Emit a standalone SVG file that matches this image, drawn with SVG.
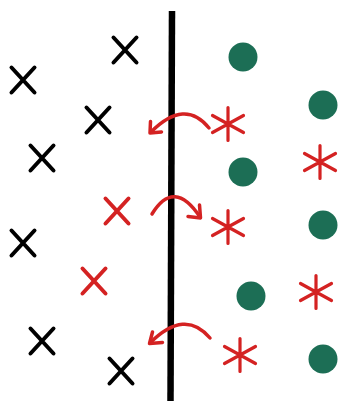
<svg xmlns="http://www.w3.org/2000/svg" xmlns:xlink="http://www.w3.org/1999/xlink" width="339" height="407" viewBox="0 0 339 407">
<style>
.xb{fill:none;stroke:#000;stroke-width:4;stroke-linecap:round}
.xr{fill:none;stroke:#d42222;stroke-width:4;stroke-linecap:round}
.ast{fill:none;stroke:#d42222;stroke-width:3.2;stroke-linecap:round}
.dot{fill:#1c6e55}
.arr{fill:none;stroke:#d42222;stroke-width:3.5;stroke-linecap:round;stroke-linejoin:round}
</style>
<defs>
<path id="xm" d="M-11.5 -12.5 L11.5 12.5 M11.5 -12.5 L-11.5 12.5"/>
<path id="am" d="M0 -16.5 L0 16.5 M-15.5 -8.5 L15.5 8.5 M-15.5 8.5 L15.5 -8.5"/>
</defs>
<rect width="339" height="407" fill="#fff"/>
<g id="divider"><line x1="172" y1="11" x2="170.5" y2="401" stroke="#000" stroke-width="6.5"/></g>
<g id="x1"><use xlink:href="#xm" class="xb" transform="translate(125,50)"/></g>
<g id="x2"><use xlink:href="#xm" class="xb" transform="translate(23,80)"/></g>
<g id="x3"><use xlink:href="#xm" class="xb" transform="translate(98,120)"/></g>
<g id="x4"><use xlink:href="#xm" class="xb" transform="translate(42,158)"/></g>
<g id="x5"><use xlink:href="#xm" class="xr" transform="translate(117,211)"/></g>
<g id="x6"><use xlink:href="#xm" class="xb" transform="translate(23,243)"/></g>
<g id="x7"><use xlink:href="#xm" class="xr" transform="translate(94,281)"/></g>
<g id="x8"><use xlink:href="#xm" class="xb" transform="translate(42,341)"/></g>
<g id="x9"><use xlink:href="#xm" class="xb" transform="translate(121,371)"/></g>
<g id="d1"><circle class="dot" cx="243" cy="57" r="14.5"/></g>
<g id="d2"><circle class="dot" cx="323" cy="105" r="14.5"/></g>
<g id="d3"><circle class="dot" cx="243" cy="172" r="14.5"/></g>
<g id="d4"><circle class="dot" cx="323" cy="225" r="14.5"/></g>
<g id="d5"><circle class="dot" cx="251" cy="296" r="14.5"/></g>
<g id="d6"><circle class="dot" cx="323" cy="359" r="14.5"/></g>
<g id="a1"><use xlink:href="#am" class="ast" transform="translate(228,124)"/></g>
<g id="a2"><use xlink:href="#am" class="ast" transform="translate(320,162)"/></g>
<g id="a3"><use xlink:href="#am" class="ast" transform="translate(228,227)"/></g>
<g id="a4"><use xlink:href="#am" class="ast" transform="translate(316,292)"/></g>
<g id="a5"><use xlink:href="#am" class="ast" transform="translate(240,355)"/></g>
<g id="connectors">
<path class="arr" d="M209 128 Q185 98 151 132"/>
<path class="arr" d="M150.5 121.5 L150 133 L161.5 132"/>
<path class="arr" d="M152 214 Q174 178 200 217"/>
<path class="arr" d="M199.5 205 L200.5 218 L188 216.5"/>
<path class="arr" d="M210 338 Q185 308 150 343"/>
<path class="arr" d="M152.5 332 L149.5 343.5 L162.5 342.5"/>
</g>
</svg>
